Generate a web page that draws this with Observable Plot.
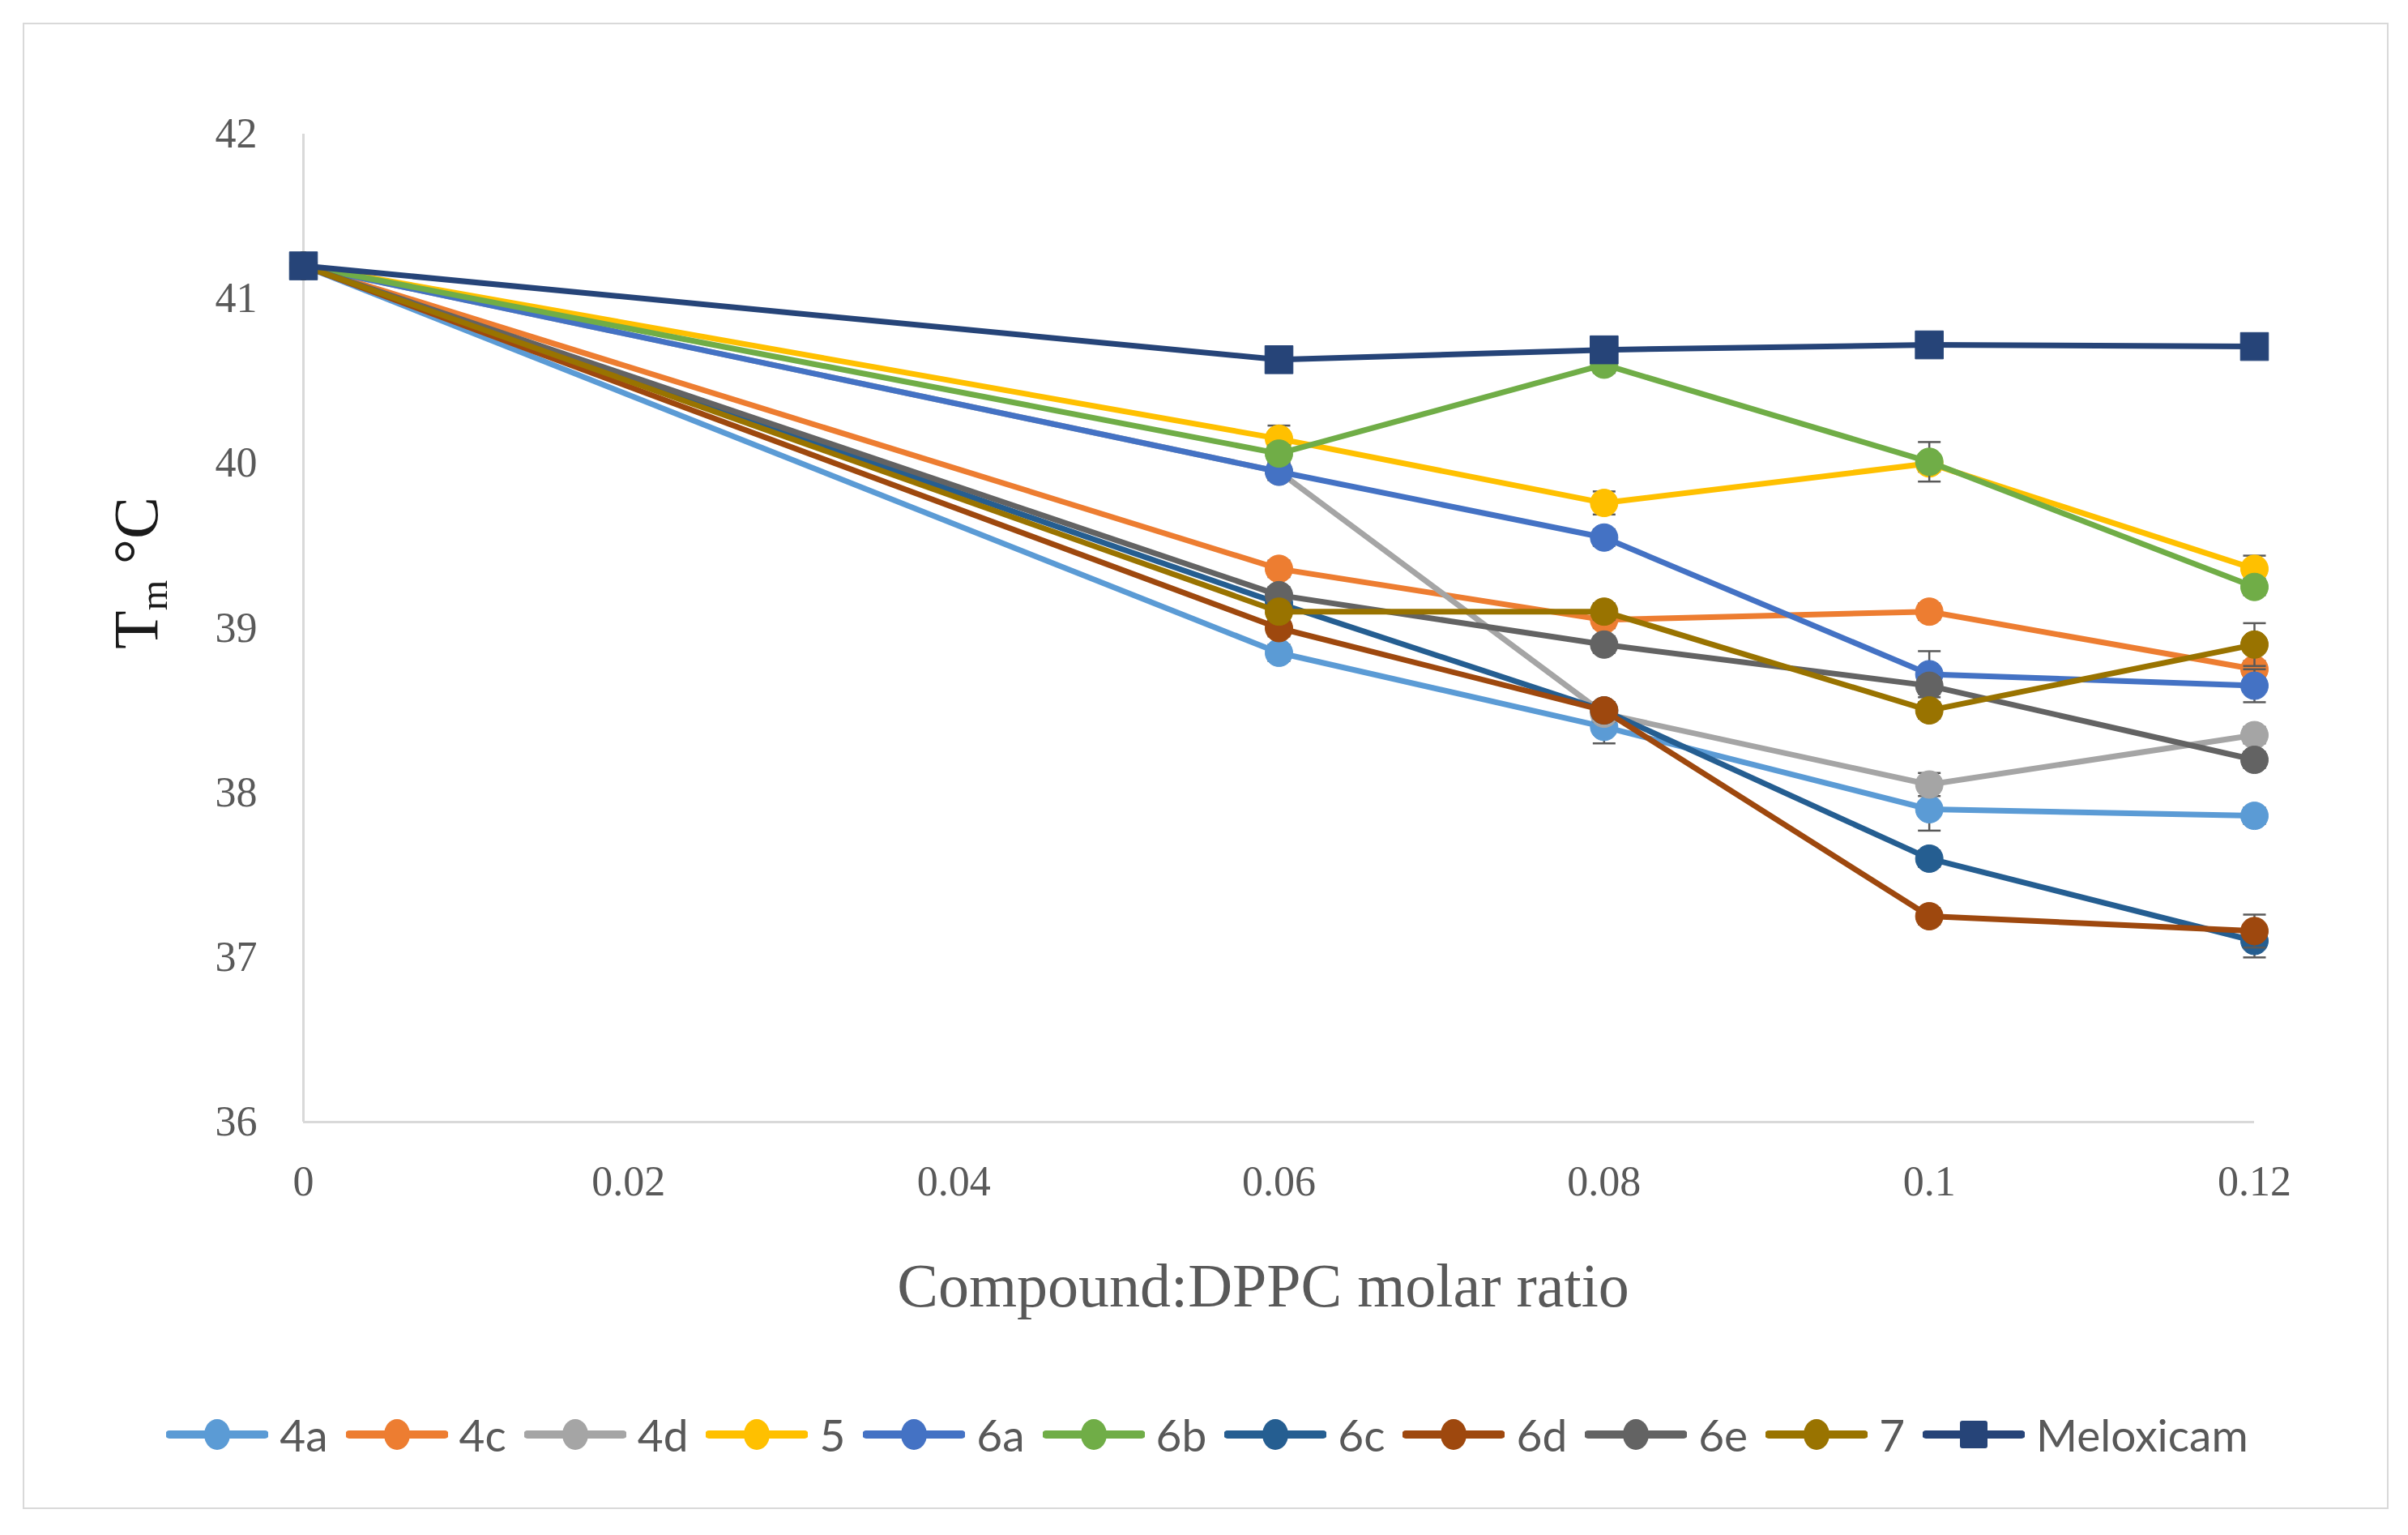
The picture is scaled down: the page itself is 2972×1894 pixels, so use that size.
<!DOCTYPE html>
<html><head><meta charset="utf-8">
<script src="https://cdn.jsdelivr.net/npm/d3@7"></script>
<script src="https://cdn.jsdelivr.net/npm/@observablehq/plot@0.6"></script>
<style>
html,body{margin:0;padding:0;background:#fff;}
#page{position:relative;width:2972px;height:1894px;overflow:hidden;background:#fff;}
#frame{position:absolute;left:28px;top:28px;width:2916px;height:1830px;border:2px solid #d9d9d9;}
#chart{position:absolute;left:0;top:0;}
#ytitle{position:absolute;left:172px;top:707px;transform:translate(-50%,-50%) rotate(-90deg);font-family:"Liberation Serif",serif;font-size:78px;color:#1a1a1a;white-space:nowrap;line-height:1;}
#ytitle sub{font-size:0.62em;vertical-align:-0.25em;}
#xtitle{position:absolute;left:1559px;top:1586px;transform:translate(-50%,-50%);font-family:"Liberation Serif",serif;font-size:76px;color:#595959;white-space:nowrap;line-height:1;}
#legend{position:absolute;left:0;width:2980px;top:1770px;transform:translateY(-50%);display:flex;justify-content:center;align-items:center;font-family:Lato,sans-serif;font-size:55px;color:#595959;}
.item{display:flex;align-items:center;margin:0 11px;}
.item span{margin-left:14px;}
</style>
</head><body>
<div id="page">
  <div id="frame"></div>
  <div id="chart"></div>
  <div id="ytitle">T<sub>m</sub> °C</div>
  <div id="xtitle"></div>
  <div id="legend"></div>
</div>
<script>
// ---- data ----
const ratio = [0, 0.06, 0.08, 0.1, 0.12];
const xTicks = [0, 0.02, 0.04, 0.06, 0.08, 0.1, 0.12];
const yTicks = [36, 37, 38, 39, 40, 41, 42];
const seriesNames = ["4a", "4c", "4d", "5", "6a", "6b", "6c", "6d", "6e", "7", "Meloxicam"];
const s4a  = [41.2, 38.85, 38.40, 37.90, 37.86];
const s4c  = [41.2, 39.36, 39.05, 39.10, 38.75];
const s4d  = [41.2, 39.95, 38.48, 38.05, 38.35];
const s5   = [41.2, 40.15, 39.76, 40.00, 39.36];
const s6a  = [41.2, 39.95, 39.55, 38.72, 38.65];
const s6b  = [41.2, 40.06, 40.60, 40.01, 39.25];
const s6c  = [41.2, 39.15, 38.50, 37.60, 37.10];
const s6d  = [41.2, 39.00, 38.50, 37.25, 37.16];
const s6e  = [41.2, 39.20, 38.90, 38.65, 38.20];
const s7   = [41.2, 39.10, 39.10, 38.50, 38.90];
const sMel = [41.2, 40.63, 40.69, 40.72, 40.71];
const e4a  = [0, 0.05, 0.10, 0.13, 0.05];
const e4c  = [0, 0.05, 0.05, 0.05, 0.05];
const e4d  = [0, 0.05, 0.05, 0.07, 0.05];
const e5   = [0, 0.08, 0.07, 0.05, 0.08];
const e6a  = [0, 0.05, 0.05, 0.14, 0.10];
const e6b  = [0, 0.05, 0.05, 0.12, 0.05];
const e6c  = [0, 0.05, 0.05, 0.05, 0.10];
const e6d  = [0, 0.05, 0.05, 0.05, 0.10];
const e6e  = [0, 0.05, 0.05, 0.05, 0.05];
const e7   = [0, 0.05, 0.05, 0.05, 0.13];
const eMel = [0, 0, 0, 0, 0];
const seriesColors = ["#5B9BD5", "#ED7D31", "#A5A5A5", "#FFC000", "#4472C4", "#70AD47", "#255E91", "#9E480E", "#636363", "#997300", "#264478"];
const xLabel = "Compound:DPPC molar ratio";

const values = [s4a, s4c, s4d, s5, s6a, s6b, s6c, s6d, s6e, s7, sMel];
const errors = [e4a, e4c, e4d, e5, e6a, e6b, e6c, e6d, e6e, e7, eMel];

// ---- build marks ----
const capSymbol = {draw(ctx, size) { const w = Math.sqrt(size / Math.PI); ctx.moveTo(-w, 0); ctx.lineTo(w, 0); }};
const marks = [
  Plot.ruleY([36], {stroke: "#d9d9d9", strokeWidth: 3}),
  Plot.ruleX([0], {stroke: "#d9d9d9", strokeWidth: 3}),
  Plot.axisY(yTicks, {tickSize: 0, tickPadding: 57, fontSize: 52, label: null, tickFormat: d => String(d)}),
  Plot.axisX(xTicks, {tickSize: 0, tickPadding: 54, fontSize: 52, label: null, tickFormat: d => String(+d.toFixed(2))})
];
seriesNames.forEach((name, i) => {
  const rows = ratio.map((x, j) => ({series: name, x, y: values[i][j], e: errors[i][j]}));
  const err = rows.filter(d => d.e > 0);
  const caps = err.flatMap(d => [{x: d.x, y: d.y - d.e}, {x: d.x, y: d.y + d.e}]);
  const col = seriesColors[i];
  marks.push(Plot.line(rows, {x: "x", y: "y", stroke: col, strokeWidth: 7, strokeLinejoin: "round"}));
  marks.push(Plot.ruleX(err, {x: "x", y1: d => d.y - d.e, y2: d => d.y + d.e, stroke: "#595959", strokeWidth: 2.5}));
  marks.push(Plot.dot(caps, {x: "x", y: "y", r: 14, symbol: capSymbol, stroke: "#595959", strokeWidth: 2.5, fill: "none"}));
  if (name === "Meloxicam") {
    marks.push(Plot.dot(rows, {x: "x", y: "y", r: 19.5, symbol: "square", fill: col, stroke: col, strokeWidth: 1}));
  } else {
    marks.push(Plot.dot(rows, {x: "x", y: "y", r: 17, fill: col, stroke: col, strokeWidth: 1}));
  }
});

const chart = Plot.plot({
  width: 2972,
  height: 1700,
  marginLeft: 374,
  marginRight: 190,
  marginTop: 165,
  marginBottom: 316,
  x: {domain: [0, 0.12], label: null},
  y: {domain: [36, 42], label: null},
  style: {fontFamily: "'Liberation Serif', serif", fontSize: "52px", color: "#595959", background: "transparent", overflow: "visible"},
  marks
});
document.getElementById("chart").appendChild(chart);
document.getElementById("xtitle").textContent = xLabel;

// ---- legend ----
const legend = document.getElementById("legend");
seriesNames.forEach((name, i) => {
  const col = seriesColors[i];
  const item = document.createElement("div");
  item.className = "item";
  const shape = name === "Meloxicam"
    ? `<rect x="46" y="3" width="34" height="34" rx="3" fill="${col}"/>`
    : `<ellipse cx="63" cy="20" rx="16" ry="19" fill="${col}"/>`;
  item.innerHTML = `<svg width="126" height="40" viewBox="0 0 126 40"><line x1="4" y1="20" x2="122" y2="20" stroke="${col}" stroke-width="10" stroke-linecap="round"/>${shape}</svg><span></span>`;
  item.querySelector("span").textContent = name;
  legend.appendChild(item);
});
</script>
</body></html>
